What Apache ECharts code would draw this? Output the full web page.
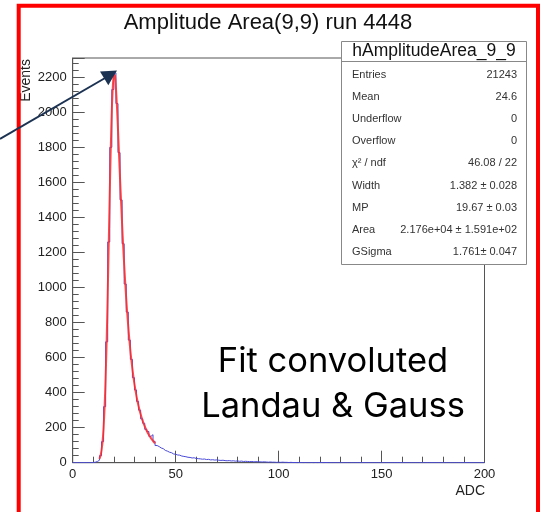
<!DOCTYPE html>
<html>
<head>
<meta charset="utf-8">
<script src="https://cdn.jsdelivr.net/npm/echarts@6/dist/echarts.min.js"></script>
<style>
html,body{margin:0;padding:0;background:#fff;}
#chart{width:546px;height:512px;}
</style>
</head>
<body>
<div id="chart"></div>
<script>
// ---- data ----
const chartTitle = 'Amplitude Area(9,9) run 4448';
const xAxisName = 'ADC';
const yAxisName = 'Events';
const binWidth = 1;
// histogram counts, bins of 1 ADC from 0 to 200
const histCounts = [
  0,0,0,0,0,0,0,0,0,1,
  3,7,14,40,120,320,690,1260,1800,2130,
  2225,2050,1770,1500,1250,1020,860,700,590,485,
  415,350,300,250,225,190,178,150,160,122,
  98,92,84,80,70,66,60,57,50,48,
  44,43,38,36,34,31,30,27,28,24,
  23,22,20,21,18,19,16,17,15,16,
  14,13,14,12,11,12,10,11,9,10,
  8,9,7,8,7,6,7,5,6,5,
  5,4,5,4,3,4,3,3,2,3,
  2,3,2,2,1,2,1,1,0,1,
  1,0,1,0,0,1,0,1,0,1,
  1,0,1,0,0,0,0,0,0,0,
  0,0,0,0,0,0,0,0,0,0,
  0,0,0,0,0,0,0,0,0,0,
  0,0,0,0,0,0,0,0,0,0,
  0,0,0,0,0,0,0,0,0,0,
  0,0,0,0,0,0,0,0,0,0,
  0,0,0,0,0,0,0,0,0,0,
  0,0,0,0,0,0,0,0,0,0
];
// fitted Landau (x) Gauss curve
const fitX = [13,13.5,14,14.5,15,15.5,16,16.5,17,17.5,18,18.5,19,19.5,20,20.5,21,21.5,22,22.5,23,23.5,24,24.5,25,25.5,26,26.5,27,27.5,28,28.5,29,29.5,30,31,32,33,34,35,36,37,38,39,40];
const fitY = [22,40,70,120,200,320,490,700,960,1250,1540,1800,2010,2150,2215,2210,2140,2030,1900,1760,1620,1490,1360,1240,1130,1030,935,850,775,705,640,585,535,490,448,378,322,276,238,207,181,159,140,124,110];
const statLabels = ['Entries','Mean','Underflow','Overflow','\u03C7\u00B2 / ndf','Width','MP','Area','GSigma'];
const statValues = ['21243','24.6','0','0','46.08 / 22','1.382 \u00B1 0.028','19.67 \u00B1 0.03','2.176e+04 \u00B1 1.591e+02','1.761\u00B1 0.047'];
const statTitle = 'hAmplitudeArea_9_9';
const noteLines = ['Fit convoluted', 'Landau & Gauss'];

// ---- build ----
const FONT = '"Liberation Sans", Arial, Helvetica, sans-serif';
const histData = histCounts.map((v, i) => [i * binWidth, v]);
histData.push([histCounts.length * binWidth, histCounts[histCounts.length - 1]]);
const fitData = fitX.map((x, i) => [x, fitY[i]]);

const axisColor = '#555';
const chart = echarts.init(document.getElementById('chart'), null, {renderer: 'canvas'});

const graphics = [];
// title
graphics.push({type:'text', x:268, y:23, z:100, style:{text:chartTitle, font:'22px ' + FONT, fill:'#111', align:'center', verticalAlign:'middle'}});
// axis names
graphics.push({type:'text', x:26, y:59, rotation:Math.PI/2, z:100, style:{text:yAxisName, font:'14px ' + FONT, fill:'#222', align:'right', verticalAlign:'middle'}});
graphics.push({type:'text', x:485, y:491, z:100, style:{text:xAxisName, font:'14px ' + FONT, fill:'#222', align:'right', verticalAlign:'middle'}});
// stats box
graphics.push({type:'rect', z:100, shape:{x:341.5, y:41.5, width:185, height:223}, style:{fill:'#fff', stroke:'#888', lineWidth:1}});
graphics.push({type:'line', z:101, shape:{x1:341.5, y1:61.5, x2:526.5, y2:61.5}, style:{stroke:'#888', lineWidth:1}});
graphics.push({type:'text', x:434, y:51, z:102, style:{text:statTitle, font:'17.5px ' + FONT, fill:'#111', align:'center', verticalAlign:'middle'}});
statLabels.forEach((lab, i) => {
  const yy = 74.5 + i * 22.2;
  graphics.push({type:'text', x:352, y:yy, z:102, style:{text:lab, font:'11px ' + FONT, fill:'#333', align:'left', verticalAlign:'middle'}});
  graphics.push({type:'text', x:517, y:yy, z:102, style:{text:statValues[i], font:'11px ' + FONT, fill:'#333', align:'right', verticalAlign:'middle'}});
});
// annotation text
graphics.push({type:'text', x:333, y:362, z:100, style:{text:noteLines[0], font:'34.5px Inter, "Noto Sans", sans-serif', fill:'#000', align:'center', verticalAlign:'middle'}});
graphics.push({type:'text', x:333, y:407, z:100, style:{text:noteLines[1], font:'34.5px Inter, "Noto Sans", sans-serif', fill:'#000', align:'center', verticalAlign:'middle'}});
// red border
graphics.push({type:'rect', z:110, shape:{x:18.7, y:5.7, width:519.3, height:530}, style:{fill:'none', stroke:'#ff0000', lineWidth:4}});
// arrow
graphics.push({type:'line', z:120, shape:{x1:0, y1:139, x2:106, y2:77.5}, style:{stroke:'#1b3252', lineWidth:2}});
graphics.push({type:'polygon', z:120, shape:{points:[[100,71.6],[117,70.5],[108.3,85.2]]}, style:{fill:'#1b3252'}});

const axisCommon = {
  axisLine:{show:true, onZero:false, lineStyle:{color:axisColor, width:1}},
  axisTick:{show:true, inside:true, length:12, lineStyle:{color:axisColor, width:1}},
  minorTick:{show:true, splitNumber:5, length:6, lineStyle:{color:axisColor, width:1}},
  splitLine:{show:false},
  minorSplitLine:{show:false}
};

chart.setOption({
  animation:false,
  backgroundColor:'#fff',
  grid:{left:72.7, right:61.5, top:58, bottom:49.3, show:true, borderColor:axisColor, borderWidth:1, backgroundColor:'transparent'},
  xAxis:Object.assign({type:'value', min:0, max:200, interval:50,
    axisLabel:{color:'#222', fontSize:13, fontFamily:FONT, margin:5, formatter:v => String(v)}}, axisCommon),
  yAxis:Object.assign({type:'value', min:0, max:2310, interval:200,
    axisLabel:{color:'#222', fontSize:13, fontFamily:FONT, margin:6, showMaxLabel:false, formatter:v => String(v)}}, axisCommon),
  series:[
    {type:'line', step:'end', data:histData, showSymbol:false, symbol:'none', lineStyle:{color:'#4a4ad8', width:1}, z:2, clip:true},
    {type:'line', smooth:0.3, data:fitData, showSymbol:false, symbol:'none', lineStyle:{color:'#ff2a2a', width:2, opacity:0.85}, z:3, clip:true}
  ],
  graphic:graphics
});
</script>
</body>
</html>
